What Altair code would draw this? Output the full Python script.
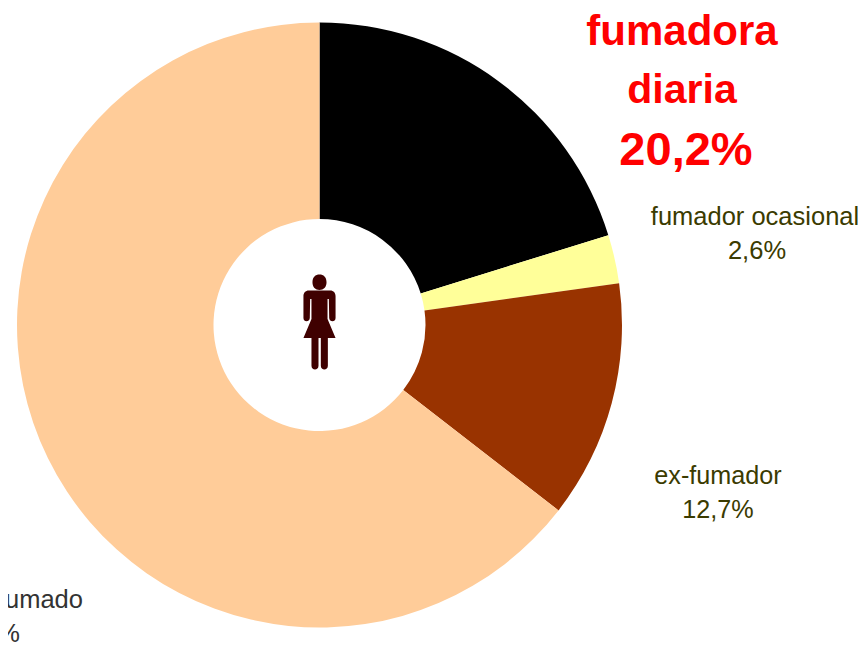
import altair as alt
import pandas as pd

categories = ["fumadora diaria", "fumador ocasional", "ex-fumador", "nunca ha fumado"]
values = [20.2, 2.6, 12.7, 64.5]
colors = ["#000000", "#FFFF99", "#993300", "#FFCC99"]

# (text, x, y, size, weight, colour, align) – annotation labels placed around the ring
labels = [
    ("fumadora", 674, 24, 42, "bold", "#FF0000", "center"),
    ("diaria", 674, 83, 41, "bold", "#FF0000", "center"),
    ("20,2%", 678, 143, 47, "bold", "#FF0000", "center"),
    ("fumador ocasional", 747, 209, 25.5, "normal", "#3B3B00", "center"),
    ("2,6%", 749, 243, 25.5, "normal", "#3B3B00", "center"),
    ("ex-fumador", 710, 468, 25.2, "normal", "#3B3B00", "center"),
    ("12,7%", 710, 502, 25.2, "normal", "#3B3B00", "center"),
    ("nunca ha fumado", 75, 592, 25.5, "normal", "#333333", "right"),
    ("64,5%", 12, 626, 25.5, "normal", "#333333", "right"),
]

CX, CY = 311.5, 317


def pt(x, y):
    return f"{(x - 150) / 142:.3f} {(y - 187) / 142:.3f}"


woman = " ".join([
    # head
    f"M{pt(129, 68)}",
    f"C{pt(129, 53)} {pt(138, 45)} {pt(150, 45)}",
    f"C{pt(162, 45)} {pt(171, 53)} {pt(171, 68)}",
    f"C{pt(171, 83)} {pt(162, 91)} {pt(150, 91)}",
    f"C{pt(138, 91)} {pt(129, 83)} {pt(129, 68)} Z",
    # body, arms, dress
    f"M{pt(118, 93)}",
    f"L{pt(182, 93)}",
    f"C{pt(192, 93)} {pt(198, 100)} {pt(198, 110)}",
    f"L{pt(198, 175)}",
    f"C{pt(198, 188)} {pt(180, 188)} {pt(179, 175)}",
    f"L{pt(178, 118)}",
    f"L{pt(174, 118)}",
    f"L{pt(174, 178)}",
    f"L{pt(198, 235)}",
    f"L{pt(175, 235)}",
    f"L{pt(175, 318)}",
    f"C{pt(175, 333)} {pt(154, 333)} {pt(154, 318)}",
    f"L{pt(154, 235)}",
    f"L{pt(147, 235)}",
    f"L{pt(147, 318)}",
    f"C{pt(147, 333)} {pt(126, 333)} {pt(126, 318)}",
    f"L{pt(126, 235)}",
    f"L{pt(102, 235)}",
    f"L{pt(126, 178)}",
    f"L{pt(126, 118)}",
    f"L{pt(122, 118)}",
    f"L{pt(121, 175)}",
    f"C{pt(120, 188)} {pt(102, 188)} {pt(102, 175)}",
    f"L{pt(102, 110)}",
    f"C{pt(102, 100)} {pt(108, 93)} {pt(118, 93)} Z",
])

df = pd.DataFrame({"cat": categories, "val": values, "ord": range(4)})

ring = (
    alt.Chart(df)
    .mark_arc(innerRadius=106, outerRadius=302.5, stroke=None)
    .encode(
        theta=alt.Theta("val:Q", stack=True, scale=alt.Scale(domain=[0, sum(values)])),
        order=alt.Order("ord:Q"),
        color=alt.Color("cat:N", scale=alt.Scale(domain=categories, range=colors), legend=None),
        x=alt.value(CX),
        y=alt.value(CY),
        tooltip=["cat:N", "val:Q"],
    )
)

icon = (
    alt.Chart(pd.DataFrame({"a": [1]}))
    .mark_point(shape=woman, filled=True, size=95 * 95, color="#3F0000", opacity=1, strokeWidth=0)
    .encode(x=alt.value(CX), y=alt.value(CY - 3))
)

layers = [ring, icon]
for text, x, y, size, weight, col, align in labels:
    layers.append(
        alt.Chart(pd.DataFrame({"t": [text]}))
        .mark_text(font="Liberation Sans", fontSize=size, fontWeight=weight, color=col, align=align, baseline="middle")
        .encode(text="t:N", x=alt.value(x), y=alt.value(y))
    )

chart = (
    alt.layer(*layers)
    .properties(width=850, height=643, padding=0, autosize=alt.AutoSizeParams(type="none"), background="white")
    .configure_view(stroke=None)
)
chart.save("out.html", embed_options={"renderer": "svg", "actions": False})
